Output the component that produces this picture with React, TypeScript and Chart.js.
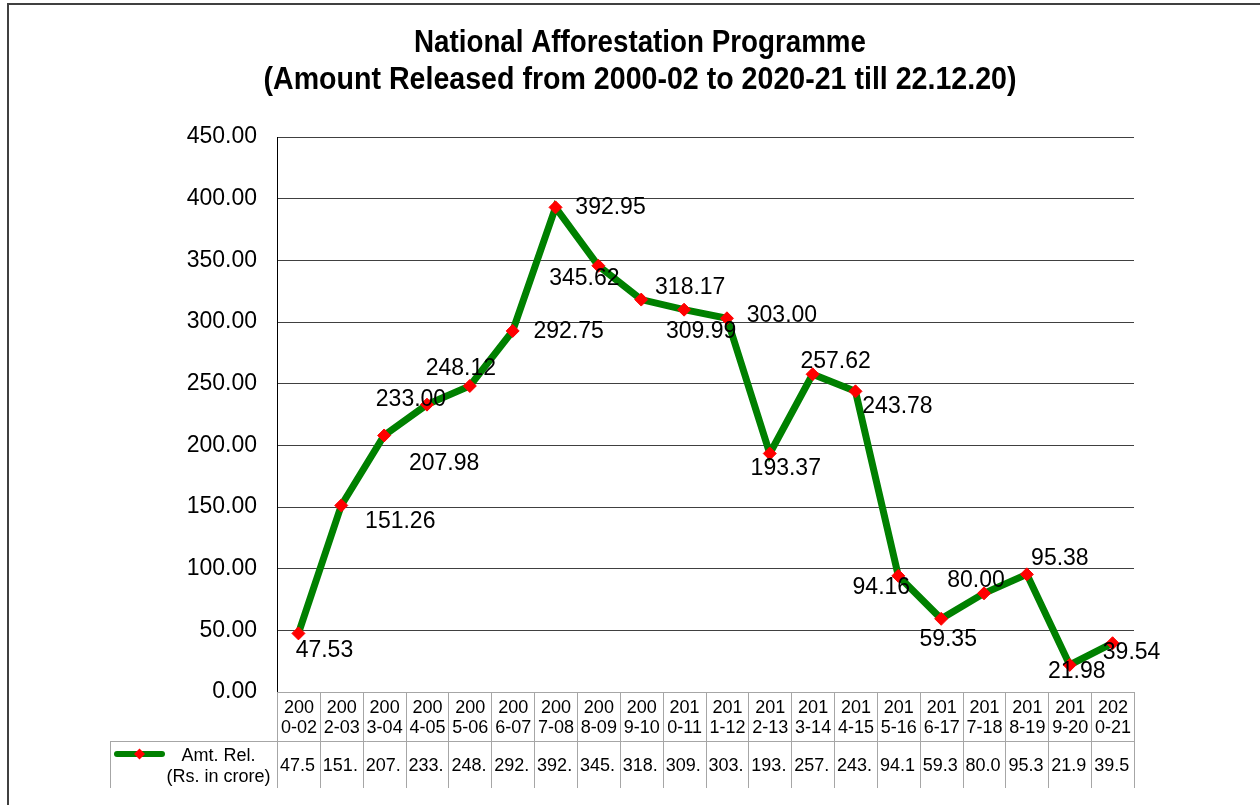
import { useEffect, useRef } from 'react';
import { Chart, registerables } from 'chart.js';

Chart.register(...registerables);

// ---------- data ----------
const categories = [
  '2000-02', '2002-03', '2003-04', '2004-05', '2005-06', '2006-07', '2007-08',
  '2008-09', '2009-10', '2010-11', '2011-12', '2012-13', '2013-14', '2014-15',
  '2015-16', '2016-17', '2017-18', '2018-19', '2019-20', '2020-21',
];
const amountReleased = [
  47.53, 151.26, 207.98, 233.0, 248.12, 292.75, 392.95, 345.62, 318.17, 309.99,
  303.0, 193.37, 257.62, 243.78, 94.16, 59.35, 80.0, 95.38, 21.98, 39.54,
];
const seriesLabelLines = ['Amt. Rel.', '(Rs. in crore)'];
const titleLines = [
  'National Afforestation Programme',
  '(Amount Released from 2000-02 to 2020-21 till 22.12.20)',
];
const yMin = 0;
const yMax = 450;
const yStep = 50;

// ---------- styling (label placement offsets, px) ----------
const labelDx = [26, 59, 60, -16, -9, 56, 55, -14, 49, 17, 55, 16, 23, 42, -17, 7, -8, 33, 7, 19];
const labelDy = [17, 16, 28, -5, -17, 1, 0, 13, -12, 22, -3, 15, -13, 15, 12, 21, -13, -16, 7, 9];

const GREEN = '#008000';
const RED = '#ff0000';
const FONT = "'Liberation Sans', Arial, sans-serif";
const TABLE_LINE = '#a6a6a6';

function hline(ctx: CanvasRenderingContext2D, x1: number, x2: number, y: number) {
  ctx.beginPath();
  ctx.moveTo(x1, Math.round(y) + 0.5);
  ctx.lineTo(x2, Math.round(y) + 0.5);
  ctx.stroke();
}
function vline(ctx: CanvasRenderingContext2D, x: number, y1: number, y2: number) {
  ctx.beginPath();
  ctx.moveTo(Math.round(x) + 0.5, y1);
  ctx.lineTo(Math.round(x) + 0.5, y2);
  ctx.stroke();
}

const framePlugin = {
  id: 'frameTitle',
  afterDraw(chart: any) {
    const ctx: CanvasRenderingContext2D = chart.ctx;
    ctx.save();
    // outer frame (top + left)
    ctx.strokeStyle = '#404040';
    ctx.lineWidth = 2;
    ctx.beginPath();
    ctx.moveTo(8, 805);
    ctx.lineTo(8, 4);
    ctx.lineTo(1260, 4);
    ctx.stroke();
    // title
    ctx.fillStyle = '#000';
    ctx.textAlign = 'center';
    ctx.textBaseline = 'middle';
    ctx.font = `bold 31px ${FONT}`;
    const targets = [452, 753];
    const ys = [43, 80];
    titleLines.forEach((t, i) => {
      const w = ctx.measureText(t).width;
      const s = Math.min(1.05, targets[i] / w);
      ctx.save();
      ctx.translate(640, ys[i]);
      ctx.scale(s, 1);
      ctx.fillText(t, 0, 0);
      ctx.restore();
    });
    ctx.restore();
  },
};

const labelsPlugin = {
  id: 'pointLabels',
  afterDatasetsDraw(chart: any) {
    const ctx: CanvasRenderingContext2D = chart.ctx;
    const meta = chart.getDatasetMeta(0);
    ctx.save();
    ctx.fillStyle = '#000';
    ctx.font = `23px ${FONT}`;
    ctx.textAlign = 'center';
    ctx.textBaseline = 'middle';
    meta.data.forEach((el: any, i: number) => {
      ctx.fillText(amountReleased[i].toFixed(2), el.x + labelDx[i], el.y + labelDy[i]);
    });
    ctx.restore();
  },
};

function wrapChars(ctx: CanvasRenderingContext2D, text: string, maxW: number): string[] {
  const lines: string[] = [];
  let cur = '';
  for (const ch of text) {
    if (cur && ctx.measureText(cur + ch).width > maxW) {
      lines.push(cur);
      cur = ch;
    } else cur += ch;
  }
  if (cur) lines.push(cur);
  return lines;
}
function truncate(ctx: CanvasRenderingContext2D, text: string, maxW: number): string {
  let t = text;
  while (t.length > 1 && ctx.measureText(t).width > maxW) t = t.slice(0, -1);
  return t;
}

const tablePlugin = {
  id: 'dataTable',
  afterDraw(chart: any) {
    const ctx: CanvasRenderingContext2D = chart.ctx;
    const area = chart.chartArea;
    const n = categories.length;
    const bw = (area.right - area.left) / n;
    const top = area.bottom;
    const mid = top + 49;
    const bottom = top + 96;
    const legendLeft = 110;
    ctx.save();
    ctx.strokeStyle = TABLE_LINE;
    ctx.lineWidth = 1;
    hline(ctx, area.left, area.right + 1, top);
    hline(ctx, legendLeft, area.right + 1, mid);
    for (let i = 0; i <= n; i++) {
      vline(ctx, area.left + i * bw, top, bottom);
    }
    vline(ctx, legendLeft, mid, bottom);
    // y axis line in plot area (dark)
    ctx.strokeStyle = '#000';
    vline(ctx, area.left, area.top, area.bottom);

    ctx.fillStyle = '#000';
    ctx.font = `18px ${FONT}`;
    ctx.textBaseline = 'middle';
    for (let i = 0; i < n; i++) {
      const left = area.left + i * bw;
      const lines = wrapChars(ctx, categories[i], bw - 6);
      ctx.textAlign = 'center';
      lines.forEach((ln, k) => {
        ctx.fillText(ln, left + bw / 2 + 0.5, top + 16 + k * 20);
      });
      ctx.textAlign = 'left';
      const v = truncate(ctx, amountReleased[i].toFixed(2), bw - 6);
      ctx.fillText(v, left + 3, mid + 25);
    }
    // legend key
    ctx.strokeStyle = GREEN;
    ctx.lineWidth = 6;
    ctx.lineCap = 'round';
    ctx.beginPath();
    ctx.moveTo(117, mid + 13);
    ctx.lineTo(162, mid + 13);
    ctx.stroke();
    ctx.fillStyle = RED;
    const cx = 139.5, cy = mid + 13, r = 5.5;
    ctx.beginPath();
    ctx.moveTo(cx, cy - r);
    ctx.lineTo(cx + r, cy);
    ctx.lineTo(cx, cy + r);
    ctx.lineTo(cx - r, cy);
    ctx.closePath();
    ctx.fill();
    ctx.fillStyle = '#000';
    ctx.textAlign = 'center';
    ctx.fillText(seriesLabelLines[0], 218.5, mid + 15);
    ctx.fillText(seriesLabelLines[1], 218.5, mid + 36);
    ctx.restore();
  },
};

export default function App() {
  const ref = useRef<HTMLCanvasElement | null>(null);
  useEffect(() => {
    if (!ref.current) return;
    const chart = new Chart(ref.current, {
      type: 'line',
      data: {
        labels: categories,
        datasets: [
          {
            label: seriesLabelLines.join(' '),
            data: amountReleased,
            borderColor: GREEN,
            borderWidth: 7,
            pointStyle: 'rectRot',
            pointRadius: 6.5,
            pointBackgroundColor: RED,
            pointBorderColor: RED,
            pointBorderWidth: 1,
            tension: 0,
          },
        ],
      },
      options: {
        responsive: false,
        animation: false,
        devicePixelRatio: 1,
        events: [],
        layout: { padding: { top: 137, right: 126, bottom: 113, left: 0 } },
        plugins: {
          legend: { display: false },
          title: { display: false },
          tooltip: { enabled: false },
        },
        scales: {
          x: {
            type: 'category',
            display: false,
            offset: true,
          },
          y: {
            min: yMin,
            max: yMax,
            afterFit(scale: any) {
              scale.width = 277;
            },
            border: { display: true, color: '#000', width: 1 },
            grid: { color: '#404040', lineWidth: 1, drawTicks: false },
            ticks: {
              stepSize: yStep,
              padding: 20,
              color: '#000',
              font: { family: FONT, size: 23 },
              callback: (v: any) => Number(v).toFixed(2),
            },
          },
        },
      },
      plugins: [labelsPlugin, tablePlugin, framePlugin],
    });
    return () => chart.destroy();
  }, []);
  return (
    <div style={{ position: 'fixed', left: 0, top: 0, width: 1260, height: 805, background: '#fff' }}>
      <canvas ref={ref} width={1260} height={805} style={{ width: 1260, height: 805 }} />
    </div>
  );
}
